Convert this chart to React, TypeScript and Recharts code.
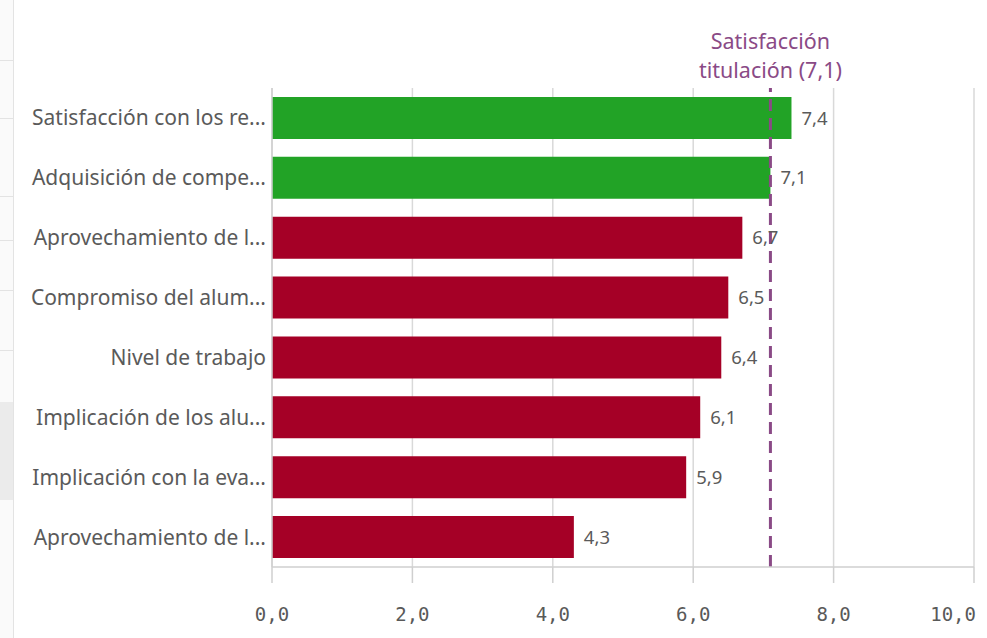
import React from "react";
import {
  BarChart,
  Bar,
  XAxis,
  YAxis,
  CartesianGrid,
  ReferenceLine,
  LabelList,
  Cell,
} from "recharts";

const categories = [
  "Satisfacción con los re...",
  "Adquisición de compe...",
  "Aprovechamiento de l...",
  "Compromiso del alum...",
  "Nivel de trabajo",
  "Implicación de los alu...",
  "Implicación con la eva...",
  "Aprovechamiento de l...",
];
const values = [7.4, 7.1, 6.7, 6.5, 6.4, 6.1, 5.9, 4.3];
const xTicks = [0, 2, 4, 6, 8, 10];
const referenceValue = 7.1;
const referenceLines = ["Satisfacción", "titulación (7,1)"];

const data = categories.map((name, i) => ({ id: i, name, value: values[i] }));

const GREEN = "#22a326";
const RED = "#a50026";
const PURPLE = "#8a4a86";
const LABEL_FONT = "Noto Sans";

const fmt = (v: number) => v.toFixed(1).replace(".", ",");

const RefLabel = (props: any) => {
  const vb = props.viewBox || {};
  const x = vb.x;
  const y = vb.y;
  return (
    <g>
      <text x={x} y={y - 39} textAnchor="middle" fill={PURPLE} fontSize={21.5} fontFamily={LABEL_FONT}>
        {referenceLines[0]}
      </text>
      <text x={x} y={y - 10} textAnchor="middle" fill={PURPLE} fontSize={21.5} fontFamily={LABEL_FONT}>
        {referenceLines[1]}
      </text>
    </g>
  );
};

const XTick = (props: any) => {
  const { x, y, payload } = props;
  const last = payload.value === xTicks[xTicks.length - 1];
  return (
    <text
      x={last ? x + 2 : x}
      y={y}
      dy="0.71em"
      textAnchor={last ? "end" : "middle"}
      fill="#595959"
      fontSize={19}
      fontFamily="DejaVu Sans Mono"
    >
      {fmt(payload.value)}
    </text>
  );
};

export default function App() {
  return (
    <div style={{ position: "absolute", left: 0, top: 0, width: 987, height: 638, background: "#fff" }}>
      <div style={{ position: "absolute", left: 0, top: 0, width: 13, height: 638, background: "#fafafa" }} />
      <div style={{ position: "absolute", left: 13, top: 0, width: 1, height: 638, background: "#e3e3e3" }} />
      {[60, 118, 196, 240, 290, 350].map((y) => (
        <div key={y} style={{ position: "absolute", left: 0, top: y, width: 13, height: 1, background: "#e3e3e3" }} />
      ))}
      <div style={{ position: "absolute", left: 0, top: 402, width: 13, height: 98, background: "#ebebeb" }} />
      <div style={{ position: "absolute", left: 0, top: 0 }}>
        <BarChart
          width={987}
          height={638}
          data={data}
          layout="vertical"
          margin={{ top: 88, right: 13, bottom: 0, left: 0 }}
          barCategoryGap="15%"
        >
          <CartesianGrid horizontal={false} stroke="#d9d9d9" strokeWidth={1.5} />
          <XAxis
            type="number"
            domain={[0, 10]}
            ticks={xTicks}
            height={71}
            stroke="#cfcfcf"
            strokeWidth={1.5}
            tickSize={16}
            tickMargin={25}
            tick={<XTick />}
            allowDataOverflow
          />
          <YAxis
            type="category"
            dataKey="name"
            width={272}
            stroke="#cfcfcf"
            strokeWidth={1.5}
            tickLine={false}
            tickSize={0}
            tickMargin={6}
            interval={0}
            tick={{ fill: "#5a5a5a", fontSize: 21, fontFamily: LABEL_FONT }}
          />
          <Bar dataKey="value" isAnimationActive={false}>
            {data.map((d) => (
              <Cell key={d.id} fill={d.value >= referenceValue ? GREEN : RED} />
            ))}
            <LabelList
              dataKey="value"
              position="right"
              offset={10}
              formatter={(v: any) => fmt(Number(v))}
              fill="#5a5a5a"
              fontSize={18.5}
              fontFamily={LABEL_FONT}
            />
          </Bar>
          <ReferenceLine
            x={referenceValue}
            stroke={PURPLE}
            strokeWidth={3}
            strokeDasharray="12 7"
            label={<RefLabel />}
          />
        </BarChart>
      </div>
    </div>
  );
}
